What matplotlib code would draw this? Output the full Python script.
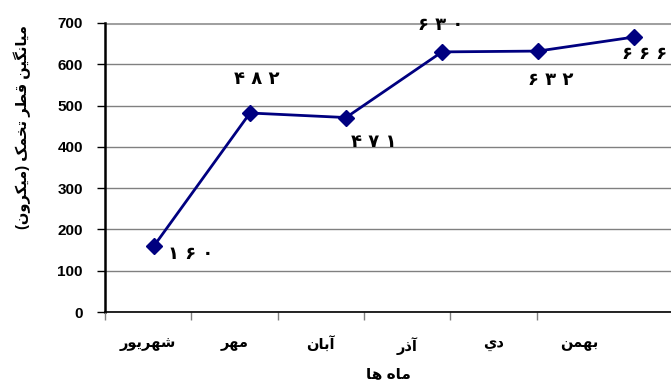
import matplotlib
matplotlib.use("Agg")
import matplotlib.pyplot as plt

months = ["شهريور", "مهر", "آبان", "آذر", "دي", "بهمن"]
diameter = [160, 482, 471, 630, 632, 666]
y_ticks = [0, 100, 200, 300, 400, 500, 600, 700]
x_title = "ماه ها"
y_title = "ميانگين قطر تخمک (ميکرون)"

# offsets of the value labels from their points (pixels)
label_offsets = [(37, -8), (7, 34), (28, -24), (-1, 27), (13, -29), (11, -17)]

# contextual forms: isolated, final, initial, medial
FORMS = {
    "ا": (0xFE8D, 0xFE8E), "آ": (0xFE81, 0xFE82), "د": (0xFEA9, 0xFEAA),
    "ذ": (0xFEAB, 0xFEAC), "ر": (0xFEAD, 0xFEAE), "و": (0xFEED, 0xFEEE),
    "ب": (0xFE8F, 0xFE90, 0xFE91, 0xFE92), "ت": (0xFE95, 0xFE96, 0xFE97, 0xFE98),
    "خ": (0xFEA5, 0xFEA6, 0xFEA7, 0xFEA8), "ش": (0xFEB5, 0xFEB6, 0xFEB7, 0xFEB8),
    "ط": (0xFEC1, 0xFEC2, 0xFEC3, 0xFEC4), "ق": (0xFED5, 0xFED6, 0xFED7, 0xFED8),
    "م": (0xFEE1, 0xFEE2, 0xFEE3, 0xFEE4), "ن": (0xFEE5, 0xFEE6, 0xFEE7, 0xFEE8),
    "ه": (0xFEE9, 0xFEEA, 0xFEEB, 0xFEEC), "ي": (0xFEF1, 0xFEF2, 0xFEF3, 0xFEF4),
    "ک": (0xFB8E, 0xFB8F, 0xFB90, 0xFB91), "گ": (0xFB92, 0xFB93, 0xFB94, 0xFB95),
}
MIRROR = {"(": ")", ")": "("}


def shape(text):
    out = []
    for i, ch in enumerate(text):
        if ch not in FORMS:
            out.append(MIRROR.get(ch, ch))
            continue
        prev = text[i - 1] if i > 0 else ""
        nxt = text[i + 1] if i + 1 < len(text) else ""
        join_prev = prev in FORMS and len(FORMS[prev]) == 4
        join_next = nxt in FORMS and len(FORMS[ch]) == 4
        f = FORMS[ch]
        if join_prev and join_next:
            out.append(chr(f[3]))
        elif join_prev:
            out.append(chr(f[1]))
        elif join_next:
            out.append(chr(f[2]))
        else:
            out.append(chr(f[0]))
    return "".join(reversed(out))


def fa_digits(v):
    return " ".join(chr(0x06F0 + int(d)) for d in str(v))


plt.rcParams["font.family"] = ["Liberation Sans", "DejaVu Sans"]
plt.rcParams["font.weight"] = "bold"

fig = plt.figure(figsize=(6.71, 3.92), dpi=100)
ax = fig.add_axes([105 / 671, 1 - 312 / 392, 566 / 671, 289 / 392])

x = list(range(len(months)))
ax.plot(x, diameter, color="#000080", lw=2, marker="D", ms=8,
        markerfacecolor="#000080", markeredgecolor="#000080", zorder=3,
        clip_on=False)
for xi, v, (dx, dy) in zip(x, diameter, label_offsets):
    ax.annotate(fa_digits(v), (xi, v), xytext=(dx, dy), textcoords="offset pixels",
                ha="center", va="center", fontsize=13, fontweight="bold",
                family=["DejaVu Sans"], annotation_clip=False)

ax.set_xlim(-0.51, 5.385)
ax.set_ylim(0, 700)
ax.set_yticks(y_ticks)
ax.set_yticklabels([str(t) for t in y_ticks], fontsize=11, fontweight="bold")
ax.tick_params(axis="y", length=6, width=1, pad=10, color="black")
ax.set_xticks([])
ax.grid(axis="y", color="#808080", lw=1)
ax.set_axisbelow(True)
for s in ["top", "right", "bottom"]:
    ax.spines[s].set_visible(False)
ax.spines["left"].set_linewidth(1.8)
ax.axhline(700, color="#a0a0a0", lw=2.2, zorder=1)

# category axis along the bottom
cax = ax.twiny()
cax.set_xlim(-0.5, -0.5 + 566 / 86.3)
cax.xaxis.set_ticks_position("bottom")
cax.xaxis.set_label_position("bottom")
cax.spines["bottom"].set_position(("axes", 0))
for s in ["top", "right", "left"]:
    cax.spines[s].set_visible(False)
cax.spines["bottom"].set_linewidth(1.2)
cax.set_xticks(x)
cax.set_xticklabels([shape(m) for m in months], fontsize=10.5, fontweight="bold")
cax.set_xticks([i - 0.5 for i in x], minor=True)
cax.tick_params(axis="x", which="major", length=0, pad=18)
cax.tick_params(axis="x", which="minor", length=6, width=1, color="#808080")
cax.set_xlabel(shape(x_title), fontsize=11, fontweight="bold", labelpad=9)

fig.text(22 / 671, 1 - 127 / 392, shape(y_title), rotation=90, ha="center",
         va="center", fontsize=10.5, fontweight="bold")

fig.savefig("out.png", dpi=100)
